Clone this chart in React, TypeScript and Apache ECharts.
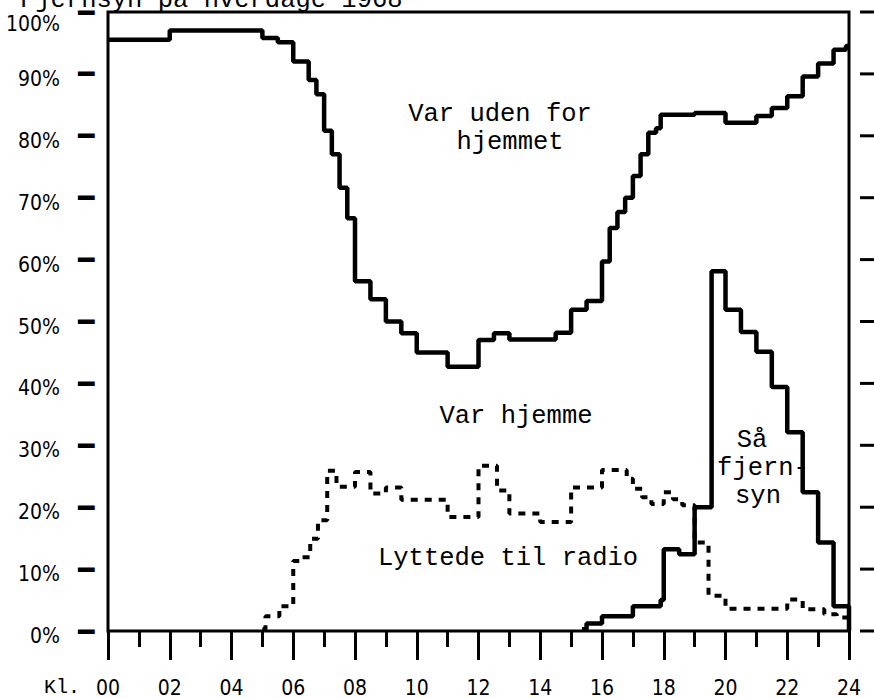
import React, { useEffect, useRef } from "react";
import * as echarts from "echarts";

// Hours of day (0-24) and percentage values, step series (value holds until next point)
const hjemmeData: [number, number][] = [
  [0, 95.5], [2, 97.0], [5, 95.8], [5.5, 95.1], [6, 92.0], [6.5, 89.0], [6.75, 86.7],
  [7, 80.8], [7.25, 77.0], [7.5, 71.6], [7.75, 66.7], [8, 56.5], [8.5, 53.6], [9, 50.0],
  [9.5, 48.1], [10, 45.0], [11, 42.7], [12, 47.0], [12.5, 48.1], [13, 47.1], [14.5, 48.2],
  [15, 51.9], [15.5, 53.3], [16, 59.7], [16.25, 65.1], [16.5, 67.7], [16.75, 70.0],
  [17, 73.5], [17.25, 77.0], [17.5, 80.5], [17.75, 81.2], [17.9, 83.4], [19, 83.7],
  [20, 82.1], [21, 83.2], [21.5, 84.5], [22, 86.4], [22.5, 89.6], [23, 91.7],
  [23.5, 93.9], [23.9, 94.5], [24, 94.5],
];

const fjernsynData: [number, number][] = [
  [15.35, 0.3], [15.5, 1.2], [16, 2.4], [17, 4.0], [17.9, 5.0], [18, 13.2], [18.5, 12.4],
  [19, 20.0], [19.55, 58.1], [20, 51.9], [20.5, 48.3], [21, 45.1], [21.5, 39.4],
  [22, 32.1], [22.5, 22.4], [23, 14.3], [23.5, 4.0], [24, 0],
];

const radioData: [number, number][] = [
  [5.0, 0.3], [5.1, 2.4], [5.55, 4.0], [6.0, 11.3], [6.25, 11.9], [6.55, 14.9],
  [6.8, 17.9], [7.1, 25.9], [7.4, 23.3], [8.0, 25.7], [8.5, 22.2], [9.0, 23.2],
  [9.5, 21.2], [11.0, 18.4], [12.0, 26.7], [12.6, 22.7], [13.0, 19.0], [14.0, 17.6],
  [15.0, 23.2], [16.0, 26.0], [16.8, 24.6], [17.0, 23.0], [17.3, 21.6], [17.6, 20.5],
  [18.0, 22.4], [18.3, 21.3], [18.6, 20.3], [19.0, 14.3], [19.45, 5.7], [20.0, 3.6],
  [22.0, 5.1], [22.5, 3.5], [23.2, 2.7], [23.6, 2.2], [24, 0.5],
];

const xTickHours = [0, 2, 4, 6, 8, 10, 12, 14, 16, 18, 20, 22, 24];
const yTickValues = [0, 10, 20, 30, 40, 50, 60, 70, 80, 90, 100];
const yTickLabels = ["0%", "10%", "20%", "30%", "40%", "50%", "60%", "70%", "80%", "90%", "100%"];

const MONO = "'Liberation Mono', 'DejaVu Sans Mono', monospace";
const SANS = "'DejaVu Sans Condensed', Roboto, 'Liberation Sans', sans-serif";
const DASH_FONT = "'DejaVu Sans Mono', 'DejaVu Sans', 'Noto Sans CJK SC', monospace";

const hiddenLine = { show: true, lineStyle: { color: "rgba(0,0,0,0)", width: 0 } };

export default function App() {
  const ref = useRef<HTMLDivElement>(null);

  useEffect(() => {
    if (!ref.current) return;
    const chart = echarts.init(ref.current, undefined, { renderer: "svg" });
    const lineCommon = {
      type: "line" as const,
      step: "end" as const,
      showSymbol: false,
      symbol: "none",
      xAxisIndex: 0,
      yAxisIndex: 0,
    };
    const txt = (text: string, x: number, y: number, align = "center", size = 25.5) => ({
      type: "text",
      x,
      y,
      style: {
        text,
        fill: "#000",
        font: `${size}px ${MONO}`,
        align,
        verticalAlign: "middle",
      },
    });
    // right-hand tick dashes (outside the frame)
    const rightTicks = {
      type: "custom",
      name: "y-ticks-right",
      clip: false,
      silent: true,
      z: 10,
      xAxisIndex: 0,
      yAxisIndex: 0,
      encode: { x: 0, y: 1 },
      data: yTickValues.map((v) => [24, v]),
      renderItem: (_params: any, api: any) => {
        const v = api.value(1);
        const pr = api.coord([24, v]);
        return {
          type: "line",
          shape: { x1: pr[0] + 11, y1: pr[1], x2: pr[0] + 25, y2: pr[1] },
          style: { stroke: "#000", lineWidth: 3 },
        };
      },
    };
    // left-hand tick dashes, drawn as heavy box-drawing glyphs at scale positions
    const leftTicks = {
      type: "custom",
      name: "y-ticks-left",
      clip: false,
      silent: true,
      z: 10,
      xAxisIndex: 0,
      yAxisIndex: 0,
      encode: { x: 0, y: 1 },
      data: yTickValues.map((v) => [24, v]),
      renderItem: (_params: any, api: any) => {
        const v = api.value(1);
        const pl = api.coord([0, v]);
        return {
          type: "text",
          x: pl[0] - 22,
          y: pl[1],
          style: {
            text: "━",
            fill: "#000",
            font: `27px ${DASH_FONT}`,
            align: "center",
            verticalAlign: "middle",
          },
        };
      },
    };
    chart.setOption({
      animation: false,
      backgroundColor: "#fff",
      grid: [
        {
          left: 108,
          right: 25,
          top: 12,
          bottom: 67,
          show: true,
          borderColor: "#000",
          borderWidth: 3,
          backgroundColor: "transparent",
        },
        { left: 78, width: 16, top: 12, bottom: 67, show: false },
      ],
      xAxis: [
        {
          type: "value",
          min: 0,
          max: 24,
          interval: 2,
          position: "bottom",
          axisLine: hiddenLine,
          axisTick: { show: true, inside: false, length: 29, lineStyle: { color: "#000", width: 3 } },
          splitLine: { show: false },
          axisLabel: {
            margin: 46,
            color: "#000",
            fontFamily: SANS,
            fontSize: 21,
            formatter: (v: number) =>
              xTickHours.includes(v) ? String(v).padStart(2, "0") : "",
          },
        },
        {
          type: "value",
          min: 0,
          max: 24,
          interval: 1,
          position: "bottom",
          axisLine: hiddenLine,
          axisTick: { show: true, inside: false, length: 16, lineStyle: { color: "#000", width: 3 } },
          splitLine: { show: false },
          axisLabel: { show: false },
        },
        {
          type: "value",
          gridIndex: 1,
          min: 0,
          max: 1,
          show: false,
        },
      ],
      yAxis: [
        {
          type: "value",
          min: 0,
          max: 100,
          interval: 10,
          show: false,
        },
        {
          type: "value",
          gridIndex: 1,
          min: 0,
          max: 100,
          interval: 10,
          position: "left",
          axisLine: { show: false },
          axisTick: { show: false },
          splitLine: { show: true, lineStyle: { color: "#000", width: 3 } },
          axisLabel: {
            margin: 18,
            color: "#000",
            fontFamily: SANS,
            fontSize: 21,
            verticalAlign: "top",
            lineHeight: 10,
            formatter: (v: number) => {
              const s = yTickLabels[Math.round(v / 10)];
              return v === 100 ? `{t|${s}}` : s;
            },
            rich: {
              t: { fontFamily: SANS, fontSize: 21, color: "#000", lineHeight: 24 },
            },
          },
        },
      ],
      series: [
        {
          ...lineCommon,
          name: "Var hjemme",
          data: hjemmeData,
          lineStyle: { color: "#000", width: 4.5 },
        },
        {
          ...lineCommon,
          name: "Så fjernsyn",
          data: fjernsynData,
          lineStyle: { color: "#000", width: 4.5 },
        },
        {
          ...lineCommon,
          name: "Lyttede til radio",
          data: radioData,
          lineStyle: { color: "#000", width: 4, type: [7, 7] },
        },
        rightTicks,
        leftTicks,
      ],
      graphic: [
        txt("Fjernsyn på hverdage 1968", 20, 0, "left"),
        txt("Var uden for", 500, 114),
        txt("hjemmet", 510, 142),
        txt("Var hjemme", 516, 416),
        txt("Lyttede til radio", 378, 558, "left"),
        txt("Så", 752, 440),
        txt("fjern-", 763, 468),
        txt("syn", 758, 496),
        txt("Kl.", 80, 687, "right", 20),
      ],
    });
    return () => chart.dispose();
  }, []);

  return (
    <div
      ref={ref}
      style={{ position: "fixed", left: 0, top: 0, width: 874, height: 698, background: "#fff" }}
    />
  );
}
